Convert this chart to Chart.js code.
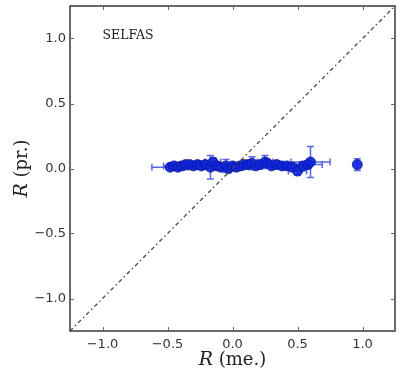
<!DOCTYPE html>
<html><head><meta charset="utf-8">
<script src="https://cdn.jsdelivr.net/npm/chart.js@4"></script>
<style>html,body{margin:0;padding:0;background:#fff;}#wrap{width:403px;height:374px;}</style>
</head><body><div id="wrap"><canvas id="c" width="403" height="374"></canvas></div>
<script>
const xs    = [-0.48,-0.45,-0.42,-0.39,-0.36,-0.33,-0.30,-0.27,-0.24,-0.21,-0.17,-0.15,-0.12,-0.09,-0.05,-0.03,0.00,0.03,0.06,0.09,0.12,0.15,0.18,0.21,0.25,0.27,0.30,0.34,0.38,0.42,0.46,0.50,0.54,0.58,0.60,0.96];
const ys    = [0.01,0.02,0.01,0.02,0.03,0.03,0.02,0.03,0.02,0.03,0.01,0.05,0.02,0.01,0.02,0.00,0.02,0.01,0.02,0.03,0.03,0.04,0.02,0.03,0.05,0.04,0.02,0.03,0.02,0.02,0.01,-0.02,0.02,0.03,0.05,0.03];
const xerrs = [0.14,0.08,0.06,0.10,0.05,0.07,0.06,0.09,0.05,0.08,0.07,0.06,0.05,0.06,0.08,0.05,0.07,0.06,0.05,0.09,0.06,0.08,0.05,0.07,0.06,0.05,0.08,0.06,0.07,0.05,0.06,0.07,0.05,0.11,0.15,0.00];
const yerrs = [0.02,0.02,0.02,0.03,0.02,0.02,0.02,0.03,0.02,0.03,0.09,0.03,0.03,0.02,0.05,0.03,0.02,0.02,0.03,0.02,0.03,0.05,0.02,0.03,0.05,0.02,0.02,0.03,0.02,0.02,0.02,0.03,0.02,0.03,0.12,0.045];
const tickVals = [-1.0,-0.5,0.0,0.5,1.0];
const diag = [-1.25, 1.25];
const label = 'SELFAS';

const pts = xs.map((x,i)=>({x:x,y:ys[i]}));
const fmt = v => (v<0?'\u2212':'') + Math.abs(v).toFixed(1);

const framePlugin = {
  id:'frame',
  beforeDatasetsDraw(chart){
    const ctx = chart.ctx, xS = chart.scales.x, yS = chart.scales.y;
    ctx.save();
    ctx.strokeStyle = 'rgba(70,85,225,0.9)';
    ctx.lineWidth = 1.5;
    xs.forEach((x,i)=>{
      const px = xS.getPixelForValue(x), py = yS.getPixelForValue(ys[i]);
      if (xerrs[i]>0){
        const l = xS.getPixelForValue(x-xerrs[i]), r = xS.getPixelForValue(x+xerrs[i]);
        ctx.beginPath(); ctx.moveTo(l,py); ctx.lineTo(r,py);
        ctx.moveTo(l,py-3.5); ctx.lineTo(l,py+3.5); ctx.moveTo(r,py-3.5); ctx.lineTo(r,py+3.5); ctx.stroke();
      }
      if (yerrs[i]>0){
        const t = yS.getPixelForValue(ys[i]+yerrs[i]), b = yS.getPixelForValue(ys[i]-yerrs[i]);
        ctx.beginPath(); ctx.moveTo(px,t); ctx.lineTo(px,b);
        ctx.moveTo(px-3.5,t); ctx.lineTo(px+3.5,t); ctx.moveTo(px-3.5,b); ctx.lineTo(px+3.5,b); ctx.stroke();
      }
    });
    ctx.restore();
  },
  afterDraw(chart){
    const ctx = chart.ctx, a = chart.chartArea, xS = chart.scales.x, yS = chart.scales.y;
    ctx.save();
    ctx.strokeStyle = '#444'; ctx.lineWidth = 1.6;
    ctx.strokeRect(a.left, a.top, a.right-a.left, a.bottom-a.top);
    ctx.lineWidth = 1; ctx.strokeStyle = '#666';
    tickVals.forEach(v=>{
      const px = Math.round(xS.getPixelForValue(v))+0.5, py = Math.round(yS.getPixelForValue(v))+0.5;
      ctx.beginPath();
      ctx.moveTo(px,a.bottom); ctx.lineTo(px,a.bottom-4);
      ctx.moveTo(px,a.top); ctx.lineTo(px,a.top+4);
      ctx.moveTo(a.left,py); ctx.lineTo(a.left+4,py);
      ctx.moveTo(a.right,py); ctx.lineTo(a.right-4,py);
      ctx.stroke();
    });
    ctx.fillStyle = '#1a1a1a';
    ctx.font = '12.5px "DejaVu Serif", serif';
    ctx.textBaseline = 'middle'; ctx.textAlign = 'left';
    ctx.fillText(label, xS.getPixelForValue(-1.0), yS.getPixelForValue(1.02));
    const drawTitle = (cx, cy, rot, rest) => {
      ctx.save(); ctx.translate(cx, cy); ctx.rotate(rot);
      const fI = 'italic 19px "DejaVu Serif", serif', fN = '18px "DejaVu Serif", serif';
      ctx.font = fI; const wR = ctx.measureText('R').width;
      ctx.font = fN; const wT = ctx.measureText(rest).width;
      const x0 = -(wR+wT)/2;
      ctx.textAlign = 'left'; ctx.textBaseline = 'middle'; ctx.fillStyle = '#222';
      ctx.font = fI; ctx.fillText('R', x0, 0);
      ctx.font = fN; ctx.fillText(rest, x0+wR, 0);
      ctx.restore();
    };
    drawTitle((a.left+a.right)/2, 360, 0, ' (me.)');
    drawTitle(22, (a.top+a.bottom)/2, -Math.PI/2, ' (pr.)');
    ctx.restore();
  }
};

new Chart(document.getElementById('c'), {
  type:'scatter',
  data:{datasets:[
    {type:'line', data:[{x:diag[0],y:diag[0]},{x:diag[1],y:diag[1]}], borderColor:'#444', borderWidth:1.3, borderDash:[4,3,1.5,3], pointRadius:0, fill:false},
    {data:pts, backgroundColor:'rgba(15,35,220,0.92)', borderColor:'#0a1a8a', borderWidth:0.8, pointRadius:5, pointHoverRadius:5}
  ]},
  options:{
    responsive:false, animation:false,
    layout:{padding:{left:0,right:8,top:6,bottom:0}},
    plugins:{legend:{display:false}, tooltip:{enabled:false}},
    scales:{
      x:{type:'linear', min:-1.25, max:1.25,
        afterBuildTicks(s){ s.ticks = tickVals.map(v=>({value:v})); },
        afterFit(s){ s.height = 43; s.paddingLeft = 0; s.paddingRight = 0; },
        grid:{display:false, drawTicks:false}, border:{display:false},
        ticks:{padding:6, color:'#333', font:{family:'"DejaVu Sans"', size:13}, callback:v=>fmt(v), maxRotation:0}},
      y:{type:'linear', min:-1.25, max:1.25,
        afterBuildTicks(s){ s.ticks = tickVals.map(v=>({value:v})); },
        afterFit(s){ s.width = 70; s.paddingTop = 0; s.paddingBottom = 0; },
        grid:{display:false, drawTicks:false}, border:{display:false},
        ticks:{padding:4, color:'#333', font:{family:'"DejaVu Sans"', size:13}, callback:v=>fmt(v)}}
    }
  },
  plugins:[framePlugin]
});
</script></body></html>
